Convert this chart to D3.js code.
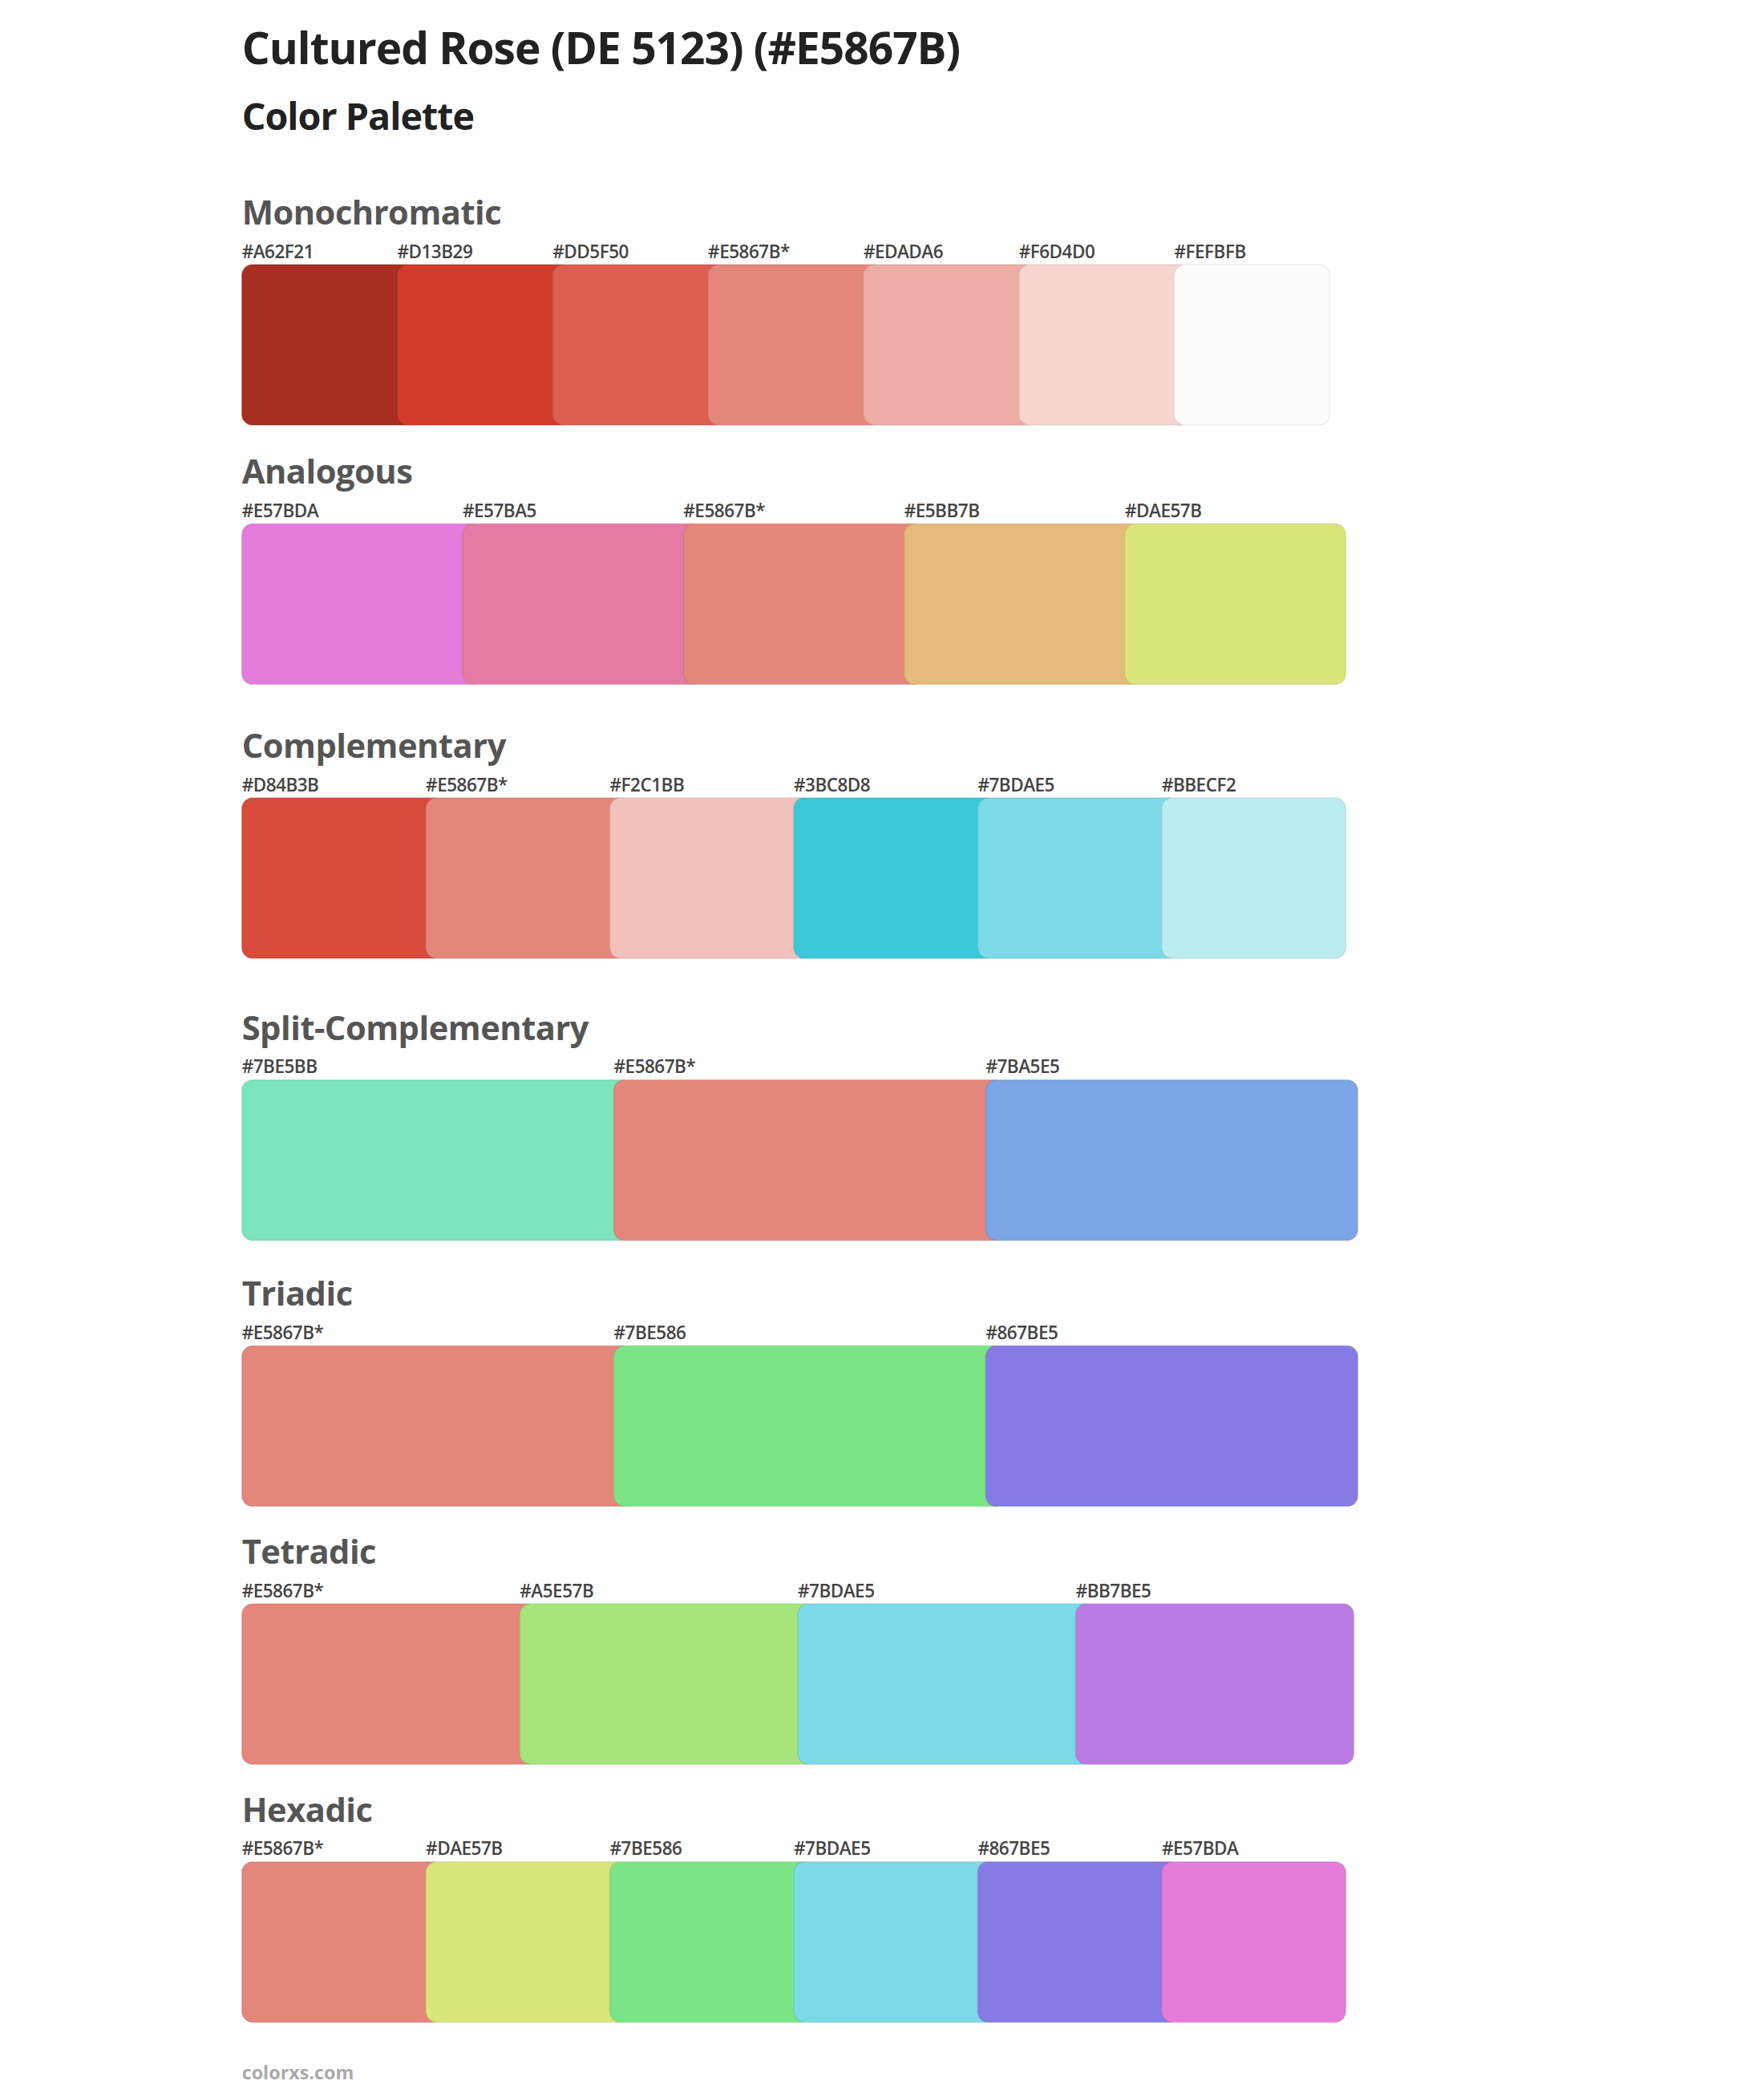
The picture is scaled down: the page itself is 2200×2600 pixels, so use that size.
<!DOCTYPE html>
<html><head><meta charset="utf-8">
<script src="https://cdn.jsdelivr.net/npm/d3@7"></script>
<style>body{margin:0;background:#fff}</style></head>
<body><svg id="c" width="2200" height="2600"></svg>
<script>
const S = 5/3;
const sectionNames = ["Monochromatic","Analogous","Complementary","Split-Complementary","Triadic","Tetradic","Hexadic"];
const monochromatic = ["#A62F21","#D13B29","#DD5F50","#E5867B*","#EDADA6","#F6D4D0","#FEFBFB"];
const analogous = ["#E57BDA","#E57BA5","#E5867B*","#E5BB7B","#DAE57B"];
const complementary = ["#D84B3B","#E5867B*","#F2C1BB","#3BC8D8","#7BDAE5","#BBECF2"];
const splitComplementary = ["#7BE5BB","#E5867B*","#7BA5E5"];
const triadic = ["#E5867B*","#7BE586","#867BE5"];
const tetradic = ["#E5867B*","#A5E57B","#7BDAE5","#BB7BE5"];
const hexadic = ["#E5867B*","#DAE57B","#7BE586","#7BDAE5","#867BE5","#E57BDA"];
const palettes = [monochromatic,analogous,complementary,splitComplementary,triadic,tetradic,hexadic];
// layout (display units, scaled by S)
const titleY = [168,362,567,778,977,1170,1363];
const rightEdge = [995,1007,1007,1016,1016,1013,1007];

const svg = d3.select("#c");
const font = "'Open Sans', sans-serif";
svg.append("text").attr("x",181*S).attr("y",48*S).attr("font-family",font).attr("font-weight",700)
  .attr("font-size",33*S).attr("fill","#222").attr("letter-spacing",-1).text("Cultured Rose (DE 5123) (#E5867B)");
svg.append("text").attr("x",181*S).attr("y",97*S).attr("font-family",font).attr("font-weight",700)
  .attr("font-size",28*S).attr("fill","#222").attr("letter-spacing",-1).text("Color Palette");

palettes.forEach((pal,i)=>{
  const g = svg.append("g");
  const ty = titleY[i]*S;
  g.append("text").attr("x",181*S).attr("y",ty).attr("font-family",font).attr("font-weight",700)
    .attr("font-size",25*S).attr("fill","#555").attr("letter-spacing",-0.5).text(sectionNames[i]);
  const x = d3.scaleBand().domain(d3.range(pal.length)).range([181*S, rightEdge[i]*S]).padding(0);
  const top = ty + 30*S, h = 120*S;
  const bw = x.bandwidth();
  pal.forEach((lab,j)=>{
    const col = lab.replace("*","");
    g.append("rect").attr("x",x(j)).attr("y",top).attr("width", j===pal.length-1? bw : bw+14*S)
      .attr("height",h).attr("rx",8*S).attr("fill",col)
      .attr("stroke",d3.color(col).darker(0.6)).attr("stroke-opacity",0.35).attr("stroke-width",1.5);
  });
  // redraw labels on top
  pal.forEach((lab,j)=>{
    g.append("text").attr("x",x(j)).attr("y",top-5*S).attr("font-family",font).attr("font-weight",600)
      .attr("font-size",13.5*S).attr("fill","#444").attr("letter-spacing",-0.5).text(lab);
  });
});
svg.append("text").attr("x",181*S).attr("y",1556*S).attr("font-family",font).attr("font-weight",700)
  .attr("font-size",14*S).attr("fill","#aaa").text("colorxs.com");
</script></body></html>
